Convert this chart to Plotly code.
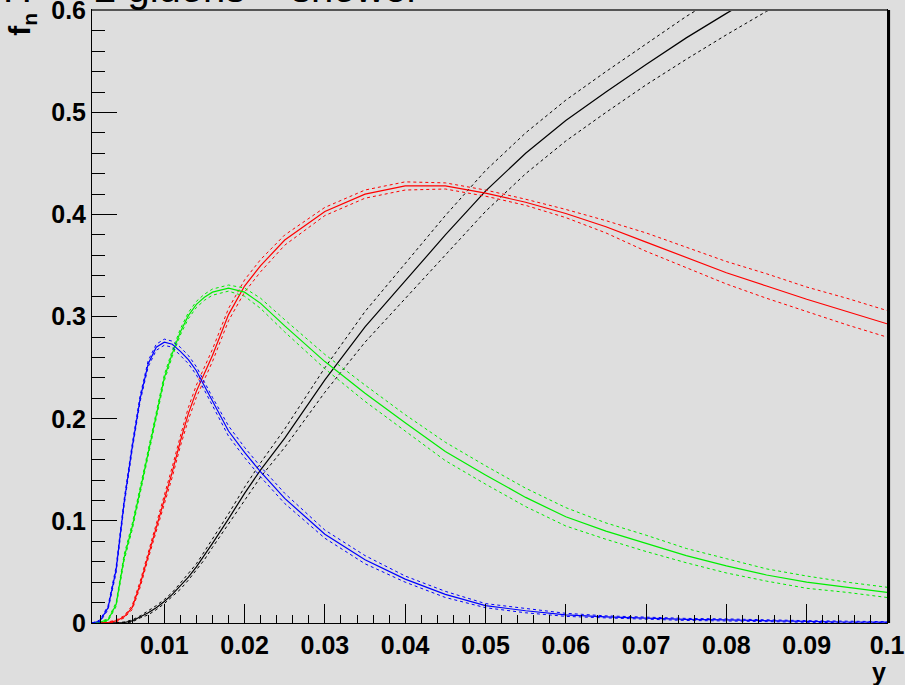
import plotly.graph_objects as go

# jet resolution parameter y
y_cut = [0.001, 0.002, 0.003, 0.004, 0.005, 0.006, 0.007, 0.008, 0.009, 0.010,
         0.011, 0.012, 0.013, 0.014, 0.015, 0.016, 0.018, 0.020, 0.022, 0.025,
         0.030, 0.035, 0.040, 0.045, 0.050, 0.055, 0.060, 0.065, 0.070, 0.075,
         0.080, 0.085, 0.090, 0.095, 0.100]

# jet fractions f_n (central values)
f_black = [0.0, 0.0, 0.0, 0.0, 0.0005, 0.002, 0.006, 0.010, 0.015, 0.021,
           0.028, 0.036, 0.045, 0.055, 0.066, 0.078, 0.102, 0.127, 0.150, 0.181,
           0.238, 0.290, 0.335, 0.380, 0.423, 0.460, 0.492, 0.520, 0.547, 0.573,
           0.597, 0.620, 0.640, 0.660, 0.680]
f_red = [0.0, 0.0, 0.0005, 0.002, 0.006, 0.015, 0.038, 0.066, 0.093, 0.120,
         0.148, 0.178, 0.205, 0.227, 0.245, 0.262, 0.302, 0.330, 0.350, 0.375,
         0.403, 0.420, 0.428, 0.428, 0.421, 0.412, 0.401, 0.388, 0.373, 0.358,
         0.343, 0.330, 0.317, 0.305, 0.293]
f_green = [0.0, 0.001, 0.003, 0.018, 0.064, 0.094, 0.130, 0.166, 0.203, 0.240,
           0.264, 0.285, 0.301, 0.312, 0.319, 0.324, 0.328, 0.324, 0.313, 0.291,
           0.256, 0.225, 0.196, 0.168, 0.145, 0.123, 0.104, 0.090, 0.078, 0.066,
           0.056, 0.047, 0.040, 0.035, 0.030]
f_blue = [0.0, 0.002, 0.015, 0.052, 0.118, 0.172, 0.220, 0.254, 0.270, 0.275,
          0.273, 0.266, 0.258, 0.247, 0.232, 0.217, 0.188, 0.167, 0.148, 0.122,
          0.087, 0.062, 0.043, 0.028, 0.017, 0.012, 0.008, 0.006, 0.0045, 0.0035,
          0.003, 0.002, 0.0015, 0.001, 0.0008]

# half widths of the uncertainty bands
e_black = [0.0, 0.0, 0.0, 0.0, 0.0005, 0.001, 0.001, 0.002, 0.002, 0.002,
           0.002, 0.003, 0.003, 0.003, 0.004, 0.004, 0.005, 0.006, 0.007, 0.009,
           0.012, 0.015, 0.017, 0.019, 0.020, 0.020, 0.020, 0.020, 0.020, 0.021,
           0.021, 0.021, 0.021, 0.021, 0.021]
e_red = [0.0, 0.0, 0.0005, 0.001, 0.001, 0.002, 0.003, 0.003, 0.004, 0.004,
         0.005, 0.005, 0.006, 0.006, 0.006, 0.006, 0.006, 0.006, 0.006, 0.005,
         0.004, 0.004, 0.004, 0.003, 0.003, 0.003, 0.004, 0.006, 0.009, 0.010,
         0.011, 0.012, 0.012, 0.013, 0.013]
e_green = [0.0, 0.0005, 0.001, 0.002, 0.003, 0.003, 0.003, 0.003, 0.003, 0.003,
           0.003, 0.003, 0.003, 0.003, 0.003, 0.003, 0.003, 0.004, 0.005, 0.006,
           0.007, 0.008, 0.008, 0.009, 0.009, 0.009, 0.009, 0.008, 0.008, 0.007,
           0.007, 0.006, 0.006, 0.005, 0.005]
e_blue = [0.0, 0.001, 0.002, 0.003, 0.003, 0.003, 0.003, 0.003, 0.003, 0.003,
          0.003, 0.004, 0.004, 0.004, 0.004, 0.004, 0.005, 0.005, 0.005, 0.005,
          0.004, 0.004, 0.003, 0.003, 0.002, 0.002, 0.0015, 0.001, 0.001, 0.001,
          0.001, 0.001, 0.0008, 0.0008, 0.0005]

x_ticks = [0.01, 0.02, 0.03, 0.04, 0.05, 0.06, 0.07, 0.08, 0.09, 0.1]
x_labels = ["0.01", "0.02", "0.03", "0.04", "0.05", "0.06", "0.07", "0.08", "0.09", "0.1"]
y_ticks = [0, 0.1, 0.2, 0.3, 0.4, 0.5, 0.6]
y_labels = ["0", "0.1", "0.2", "0.3", "0.4", "0.5", "0.6"]

title_text = "H \u2192 2 gluons + shower"

series = [
    (f_black, e_black, "#000000"),
    (f_red, e_red, "#ff0000"),
    (f_green, e_green, "#00ee00"),
    (f_blue, e_blue, "#0000ff"),
]

fig = go.Figure()
for vals, errs, col in series:
    upper = [v + e for v, e in zip(vals, errs)]
    lower = [max(0.0, v - e) for v, e in zip(vals, errs)]
    for band in (upper, lower):
        fig.add_trace(go.Scatter(x=y_cut, y=band, mode="lines", hoverinfo="skip",
                                 line=dict(color=col, width=1, dash="3px,3px")))
    fig.add_trace(go.Scatter(x=y_cut, y=vals, mode="lines",
                             line=dict(color=col, width=1.2)))

bg = "#dedede"
tickfont = dict(family="Liberation Sans", size=25, color="black", weight="bold")

fig.update_layout(
    width=905, height=685,
    margin=dict(l=92, r=18, t=10, b=62, autoexpand=False),
    paper_bgcolor=bg, plot_bgcolor=bg,
    showlegend=False,
    xaxis=dict(range=[0.001, 0.1], tickmode="array", tickvals=x_ticks, ticktext=x_labels,
               ticks="inside", ticklen=19, tickwidth=1, tickcolor="black",
               minor=dict(tick0=0, dtick=0.002, ticks="inside", ticklen=8,
                          tickcolor="black", tickwidth=1),
               showgrid=False, zeroline=False, showline=True, linecolor="black",
               linewidth=1, mirror=True, tickfont=tickfont, ticklabeloverflow="allow",
               automargin=False),
    yaxis=dict(range=[0, 0.6003], tickmode="array", tickvals=y_ticks, ticktext=y_labels,
               ticks="inside", ticklen=25, tickwidth=1, tickcolor="black",
               minor=dict(tick0=0, dtick=0.02, ticks="inside", ticklen=13,
                          tickcolor="black", tickwidth=1),
               showgrid=False, zeroline=False, showline=True, linecolor="black",
               linewidth=1, mirror=True, tickfont=tickfont, ticklabeloverflow="allow",
               automargin=False),
    shapes=[dict(type="line", xref="paper", yref="paper", x0=1.002, x1=1.002, y0=0, y1=1,
                 line=dict(color="black", width=3)),
            dict(type="line", xref="paper", yref="paper", x0=0, x1=1, y0=1.0, y1=1.0,
                 line=dict(color="#555555", width=2))],
    annotations=[
        dict(text="f<sub>n</sub>", xref="paper", yref="paper", x=-0.088, y=0.998,
             xanchor="center", yanchor="top", textangle=-90, showarrow=False,
             font=dict(family="Liberation Sans", size=30, color="black", weight="bold")),
        dict(text="y", xref="paper", yref="paper", x=1.001, y=-0.08,
             xanchor="right", yanchor="middle", showarrow=False,
             font=dict(family="Liberation Sans", size=25, color="black", weight="bold")),
        dict(text=title_text, xref="paper", yref="paper", x=-0.115, y=0.997,
             xanchor="left", yanchor="bottom", showarrow=False,
             font=dict(family="Liberation Sans", size=40, color="black")),
    ],
)

fig.write_html("out.html")
